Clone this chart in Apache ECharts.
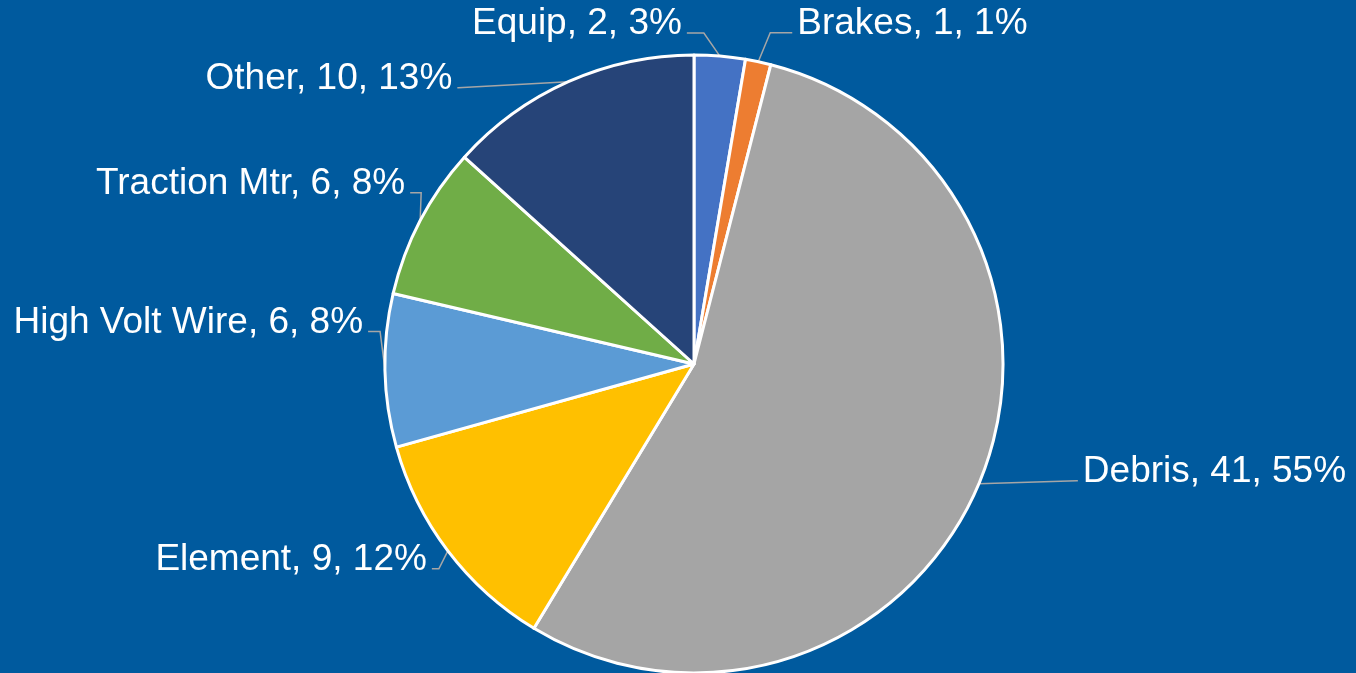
<!DOCTYPE html>
<html lang="en">

<head>
  <meta charset="UTF-8">
  <title>Failures by cause</title>
  <style>
    html, body { margin: 0; padding: 0; background: #005A9E; }
  </style>
</head>

<body>
  <div id="main" style="width: 1356px;height: 673px;"></div>
</body>
<script src="https://cdn.jsdelivr.net/npm/echarts@6/dist/echarts.min.js"></script>
<script>
  var categories = ['Equip', 'Brakes', 'Debris', 'Element', 'High Volt Wire', 'Traction Mtr', 'Other'];
  var counts = [2, 1, 41, 9, 6, 6, 10];
  var colors = ['#4472C4', '#ED7D31', '#A5A5A5', '#FFC000', '#5B9BD5', '#70AD47', '#264478'];

  // leader line shape for each label: which side, elbow offset from slice edge, horizontal run
  var guides = [
    { side: 'left', dx: -16, dy: -23, run: 17 },
    { side: 'right', dx: 12, dy: -29, run: 22 },
    { side: 'right', dx: 98, dy: -3, run: 1 },
    { side: 'left', dx: -9, dy: 18, run: 7 },
    { side: 'left', dx: -5, dy: -39, run: 12 },
    { side: 'left', dx: 1, dy: -28, run: 11 },
    { side: 'left', dx: -110, dy: 6, run: 1 }
  ];

  var chartDom = document.getElementById('main');
  var myChart = echarts.init(chartDom);
  var option;

  var pieData = categories.map(function (name, i) {
    return { name: name, value: counts[i], itemStyle: { color: colors[i] } };
  });

  option = {
    backgroundColor: '#005A9E',
    animation: false,
    series: [
      {
        type: 'pie',
        center: [694, 364],
        radius: 309,
        startAngle: 90,
        clockwise: true,
        avoidLabelOverlap: false,
        percentPrecision: 0,
        itemStyle: {
          borderColor: '#ffffff',
          borderWidth: 3
        },
        label: {
          show: true,
          position: 'outside',
          formatter: '{b}, {c}, {d}%',
          color: '#ffffff',
          fontFamily: 'Liberation Sans, Arial, sans-serif',
          fontSize: 37
        },
        labelLine: {
          show: true,
          length: 10,
          length2: 10,
          smooth: false,
          lineStyle: { color: '#A6A6A6', width: 1.5 }
        },
        labelLayout: function (params) {
          var g = guides[params.dataIndex];
          var pts = params.labelLinePoints;
          if (!g || !pts) return {};
          var p0 = pts[0];
          var p1 = [p0[0] + g.dx, p0[1] + g.dy];
          var sign = g.side === 'left' ? -1 : 1;
          var p2 = [p1[0] + sign * g.run, p1[1]];
          return {
            x: p2[0] + sign * 5,
            y: p2[1] - 9,
            align: g.side === 'left' ? 'right' : 'left',
            verticalAlign: 'middle',
            labelLinePoints: [p0, p1, p2]
          };
        },
        data: pieData
      }
    ]
  };

  option && myChart.setOption(option);
</script>

</html>
